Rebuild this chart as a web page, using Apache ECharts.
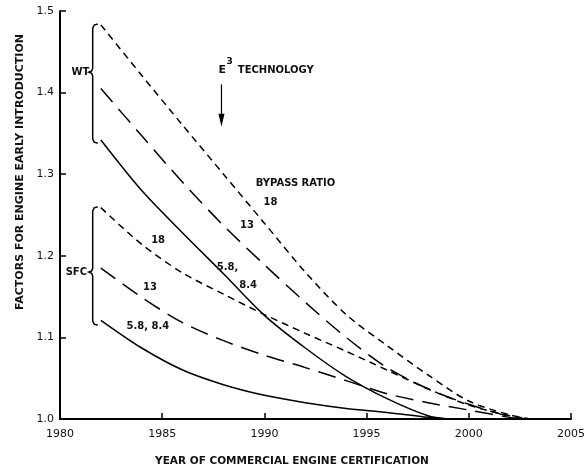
<!DOCTYPE html>
<html>
<head>
<meta charset="utf-8">
<script src="https://cdn.jsdelivr.net/npm/echarts@6/dist/echarts.min.js"></script>
<style>
  html, body { margin: 0; padding: 0; background: #fff; }
  #chart { width: 588px; height: 471px; }
</style>
</head>
<body>
<div id="chart"></div>
<script>
// sample years along the curves
let yearsLong = [1982, 1984, 1986, 1988, 1990, 1992, 1994, 1996, 1998, 2000, 2002, 2003];
let yearsShort = [1982, 1984, 1986, 1988, 1990, 1992, 1994, 1996, 1998, 1999];

// WT (weight) factors by bypass ratio
let wt18 = [1.483, 1.421, 1.360, 1.300, 1.240, 1.180, 1.128, 1.090, 1.054, 1.022, 1.005, 1.000];
let wt13 = [1.405, 1.347, 1.290, 1.237, 1.189, 1.143, 1.100, 1.063, 1.037, 1.018, 1.003, 1.000];
let wt58 = [1.342, 1.280, 1.228, 1.178, 1.127, 1.087, 1.052, 1.025, 1.004, 1.000];

// SFC factors by bypass ratio
let sfc18 = [1.259, 1.214, 1.179, 1.153, 1.128, 1.105, 1.083, 1.060, 1.037, 1.017, 1.004, 1.000];
let sfc13 = [1.185, 1.149, 1.118, 1.096, 1.078, 1.063, 1.047, 1.031, 1.020, 1.011, 1.002, 1.000];
let sfc58 = [1.121, 1.087, 1.060, 1.042, 1.029, 1.020, 1.013, 1.008, 1.002, 1.000];

let xTicks = [1980, 1985, 1990, 1995, 2000, 2005];
let yTicks = ['1.0', '1.1', '1.2', '1.3', '1.4', '1.5'];

let SHORT = [7, 5];
let LONG = [18, 9];
let FONT = 'DejaVu Sans';

function pairs(xs, ys) {
  return ys.map(function (v, i) { return [xs[i], v]; });
}

function curve(name, xs, ys, dash) {
  return {
    name: name,
    type: 'line',
    data: pairs(xs, ys),
    showSymbol: false,
    smooth: 0.3,
    silent: true,
    lineStyle: { color: '#000', width: 1.5, type: dash }
  };
}

let chart = echarts.init(document.getElementById('chart'));
chart.setOption({
  backgroundColor: '#fff',
  animation: false,
  grid: { left: 60, right: 16, top: 11, bottom: 52 },
  xAxis: {
    type: 'value',
    min: 1980,
    max: 2005,
    interval: 5,
    axisLine: { lineStyle: { color: '#000', width: 2 } },
    axisTick: { inside: true, length: 6, lineStyle: { color: '#000', width: 1.5 } },
    splitLine: { show: false },
    axisLabel: {
      margin: 10, color: '#111', fontFamily: FONT, fontSize: 11,
      formatter: function (v) { return xTicks.indexOf(v) >= 0 ? String(v) : ''; }
    }
  },
  yAxis: {
    type: 'value',
    min: 1.0,
    max: 1.5,
    interval: 0.1,
    axisLine: { show: true, lineStyle: { color: '#000', width: 2 } },
    axisTick: { show: true, inside: true, length: 6, lineStyle: { color: '#000', width: 1.5 } },
    splitLine: { show: false },
    axisLabel: {
      margin: 6, color: '#111', fontFamily: FONT, fontSize: 11,
      formatter: function (v) { return yTicks[Math.round((v - 1) * 10)]; }
    }
  },
  series: [
    curve('WT 18', yearsLong, wt18, SHORT),
    curve('WT 13', yearsLong, wt13, LONG),
    curve('WT 5.8, 8.4', yearsShort, wt58, 'solid'),
    curve('SFC 18', yearsLong, sfc18, SHORT),
    curve('SFC 13', yearsLong, sfc13, LONG),
    curve('SFC 5.8, 8.4', yearsShort, sfc58, 'solid')
  ]
});

// annotations placed in data coordinates
function px(x, y) {
  return chart.convertToPixel({ gridIndex: 0 }, [x, y]);
}

function label(text, x, y, opts) {
  let p = px(x, y);
  opts = opts || {};
  return {
    type: 'text',
    x: p[0],
    y: p[1],
    silent: true,
    style: {
      text: text,
      fill: '#111',
      font: (opts.weight || 'bold') + ' ' + (opts.size || 10) + 'px "' + FONT + '"',
      align: opts.align || 'center',
      verticalAlign: 'middle'
    }
  };
}

function brace(x, top, tip, bottom) {
  let a = px(x, top), m = px(x, tip), b = px(x, bottom);
  let cx = a[0], t = a[1], mm = m[1], bb = b[1];
  return {
    type: 'polyline',
    silent: true,
    shape: {
      points: [
        [cx + 5, t], [cx + 1.5, t + 1], [cx, t + 4],
        [cx, mm - 4], [cx - 1, mm - 1.2], [cx - 4, mm],
        [cx - 1, mm + 1.2], [cx, mm + 4],
        [cx, bb - 4], [cx + 1.5, bb - 1], [cx + 5, bb]
      ]
    },
    style: { stroke: '#000', lineWidth: 1.5, fill: null }
  };
}

let arrTop = px(1987.9, 1.410);
let arrBot = px(1987.9, 1.358);

chart.setOption({
  graphic: [
    brace(1981.6, 1.484, 1.425, 1.338),
    brace(1981.6, 1.260, 1.180, 1.115),
    label('WT', 1981.0, 1.425),
    label('SFC', 1980.8, 1.180),
    label('E', 1987.75, 1.4275, { size: 11, align: 'left' }),
    label('3', 1988.15, 1.4385, { size: 9, align: 'left' }),
    label('TECHNOLOGY', 1988.7, 1.4275, { size: 10, align: 'left' }),
    {
      type: 'line', silent: true,
      shape: { x1: arrTop[0], y1: arrTop[1], x2: arrBot[0], y2: arrBot[1] - 10 },
      style: { stroke: '#000', lineWidth: 1.2 }
    },
    {
      type: 'polygon', silent: true,
      shape: { points: [[arrBot[0] - 3, arrBot[1] - 13], [arrBot[0] + 3, arrBot[1] - 13], [arrBot[0], arrBot[1]]] },
      style: { fill: '#000' }
    },
    label('BYPASS RATIO', 1991.52, 1.289),
    label('18', 1990.3, 1.266),
    label('13', 1989.15, 1.237),
    label('5.8,', 1988.2, 1.186),
    label('8.4', 1989.2, 1.164),
    label('18', 1984.8, 1.219),
    label('13', 1984.4, 1.161),
    label('5.8, 8.4', 1984.3, 1.113),
    {
      type: 'text', x: 20, y: 172, rotation: Math.PI / 2, silent: true,
      style: {
        text: 'FACTORS FOR ENGINE EARLY INTRODUCTION', fill: '#111',
        font: 'bold 11px "' + FONT + '"', align: 'center', verticalAlign: 'middle'
      }
    },
    {
      type: 'text', x: 292, y: 461, silent: true,
      style: {
        text: 'YEAR OF COMMERCIAL ENGINE CERTIFICATION', fill: '#111',
        font: 'bold 10.5px "' + FONT + '"', align: 'center', verticalAlign: 'middle'
      }
    }
  ]
});
</script>
</body>
</html>
